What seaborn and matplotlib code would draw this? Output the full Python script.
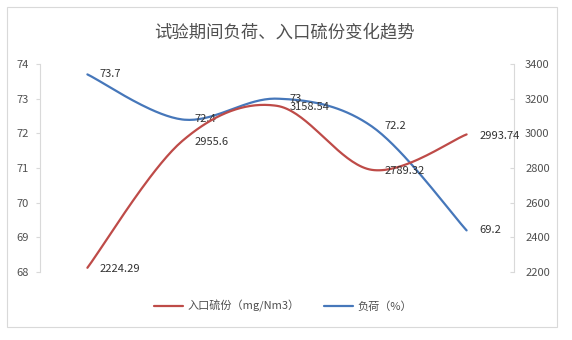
import numpy as np
import matplotlib
matplotlib.use("Agg")
import matplotlib.pyplot as plt
import matplotlib.patches as mpatches
from matplotlib.lines import Line2D
import seaborn as sns

sns.set_style("white")
plt.rcParams['font.family'] = ['Noto Sans CJK SC', 'DejaVu Sans']

# ---- data ----
categories = ["1", "2", "3", "4", "5"]
load_pct = [73.7, 72.4, 73.0, 72.2, 69.2]                      # 负荷（%）left axis
sulfur = [2224.29, 2955.6, 3158.54, 2789.32, 2993.74]         # 入口硫份（mg/Nm3） right axis
load_labels = ["73.7", "72.4", "73", "72.2", "69.2"]
sulfur_labels = ["2224.29", "2955.6", "3158.54", "2789.32", "2993.74"]
left_ticks = [68, 69, 70, 71, 72, 73, 74]
right_ticks = [2200, 2400, 2600, 2800, 3000, 3200, 3400]
title = "试验期间负荷、入口硫份变化趋势"
name_sulfur = "入口硫份（mg/Nm3）"
name_load = "负荷（%）"

BLUE = "#4677BA"
RED = "#BE4B48"
TXT = "#505050"
LBL = "#333333"
GRID = "#D9D9D9"


def smooth(xs, ys, n=40):
    """Catmull-Rom style smoothing through the given points (like Excel smoothed lines)."""
    xs = np.asarray(xs, float)
    ys = np.asarray(ys, float)
    px = np.concatenate([[xs[0]], xs, [xs[-1]]])
    py = np.concatenate([[ys[0]], ys, [ys[-1]]])
    ox, oy = [], []
    for i in range(1, len(px) - 2):
        p0 = np.array([px[i - 1], py[i - 1]])
        p1 = np.array([px[i], py[i]])
        p2 = np.array([px[i + 1], py[i + 1]])
        p3 = np.array([px[i + 2], py[i + 2]])
        c1 = p1 + (p2 - p0) / 6.0
        c2 = p2 - (p3 - p1) / 6.0
        t = np.linspace(0, 1, n)[:, None]
        b = ((1 - t) ** 3) * p1 + 3 * ((1 - t) ** 2) * t * c1 + 3 * (1 - t) * t ** 2 * c2 + t ** 3 * p2
        ox.extend(b[:, 0]); oy.extend(b[:, 1])
    return np.array(ox), np.array(oy)


W, H = 572, 340
fig = plt.figure(figsize=(W / 100, H / 100), dpi=100)
fig.patch.set_facecolor("white")

# outer chart border
fig.patches.append(mpatches.Rectangle((7 / W, 1 - 327 / H), 550 / W, 320 / H,
                                      transform=fig.transFigure, fill=False,
                                      edgecolor=GRID, linewidth=0.8))

ax = fig.add_axes([40 / W, 1 - 272 / H, 474 / W, 208 / H])
ax2 = ax.twinx()

x = np.arange(len(categories))
# Normalise both series into axis fractions so smoothing is done in the same pixel space
lx, ly = smooth(x, (np.array(load_pct) - 68) / 6.0)
rx, ry = smooth(x, (np.array(sulfur) - 2200) / 1200.0)
sns.lineplot(x=lx, y=68 + ly * 6.0, ax=ax, color=BLUE, linewidth=1.6, sort=False, estimator=None)
sns.lineplot(x=rx, y=2200 + ry * 1200.0, ax=ax2, color=RED, linewidth=1.6, sort=False, estimator=None)

ax.set_xlim(-0.5, len(categories) - 0.5)
ax.set_ylim(68, 74)
ax2.set_ylim(2200, 3400)
ax.set_yticks(left_ticks)
ax.set_yticklabels([str(t) for t in left_ticks])
ax2.set_yticks(right_ticks)
ax2.set_yticklabels([str(t) for t in right_ticks])
ax.set_xticks([])
ax.set_ylabel(""); ax2.set_ylabel("")

for a in (ax, ax2):
    for s in ("top", "bottom"):
        a.spines[s].set_visible(False)
    a.set_facecolor("none")
ax.spines["right"].set_visible(False)
ax2.spines["left"].set_visible(False)
ax.spines["left"].set_color(GRID)
ax2.spines["right"].set_color(GRID)
ax.spines["left"].set_linewidth(0.8)
ax2.spines["right"].set_linewidth(0.8)
ax.tick_params(axis="y", direction="out", length=3, width=0.8, color=GRID,
               labelsize=8, labelcolor=TXT, pad=5, left=True)
ax2.tick_params(axis="y", direction="in", length=3, width=0.8, color=GRID,
                labelsize=8, labelcolor=TXT, pad=8, right=True)

for i, (v, s) in enumerate(zip(load_pct, load_labels)):
    ax.annotate(s, (x[i], v), xytext=(9, 0), textcoords="offset points",
                ha="left", va="center", fontsize=8, color=LBL)
for i, (v, s) in enumerate(zip(sulfur, sulfur_labels)):
    ax2.annotate(s, (x[i], v), xytext=(9, -1), textcoords="offset points",
                 ha="left", va="center", fontsize=8, color=LBL)

fig.text(0.497, 1 - 32 / H, title, ha="center", va="center", fontsize=12.5, color=TXT)

handles = [Line2D([], [], color=RED, linewidth=1.6), Line2D([], [], color=BLUE, linewidth=1.6)]
fig.legend(handles, [name_sulfur, name_load], loc="center", bbox_to_anchor=(0.495, 1 - 306 / H),
           ncol=2, frameon=False, fontsize=8, labelcolor=TXT, handlelength=2.6,
           handletextpad=0.4, columnspacing=2.2)

fig.savefig("out.png", dpi=100, facecolor="white")
